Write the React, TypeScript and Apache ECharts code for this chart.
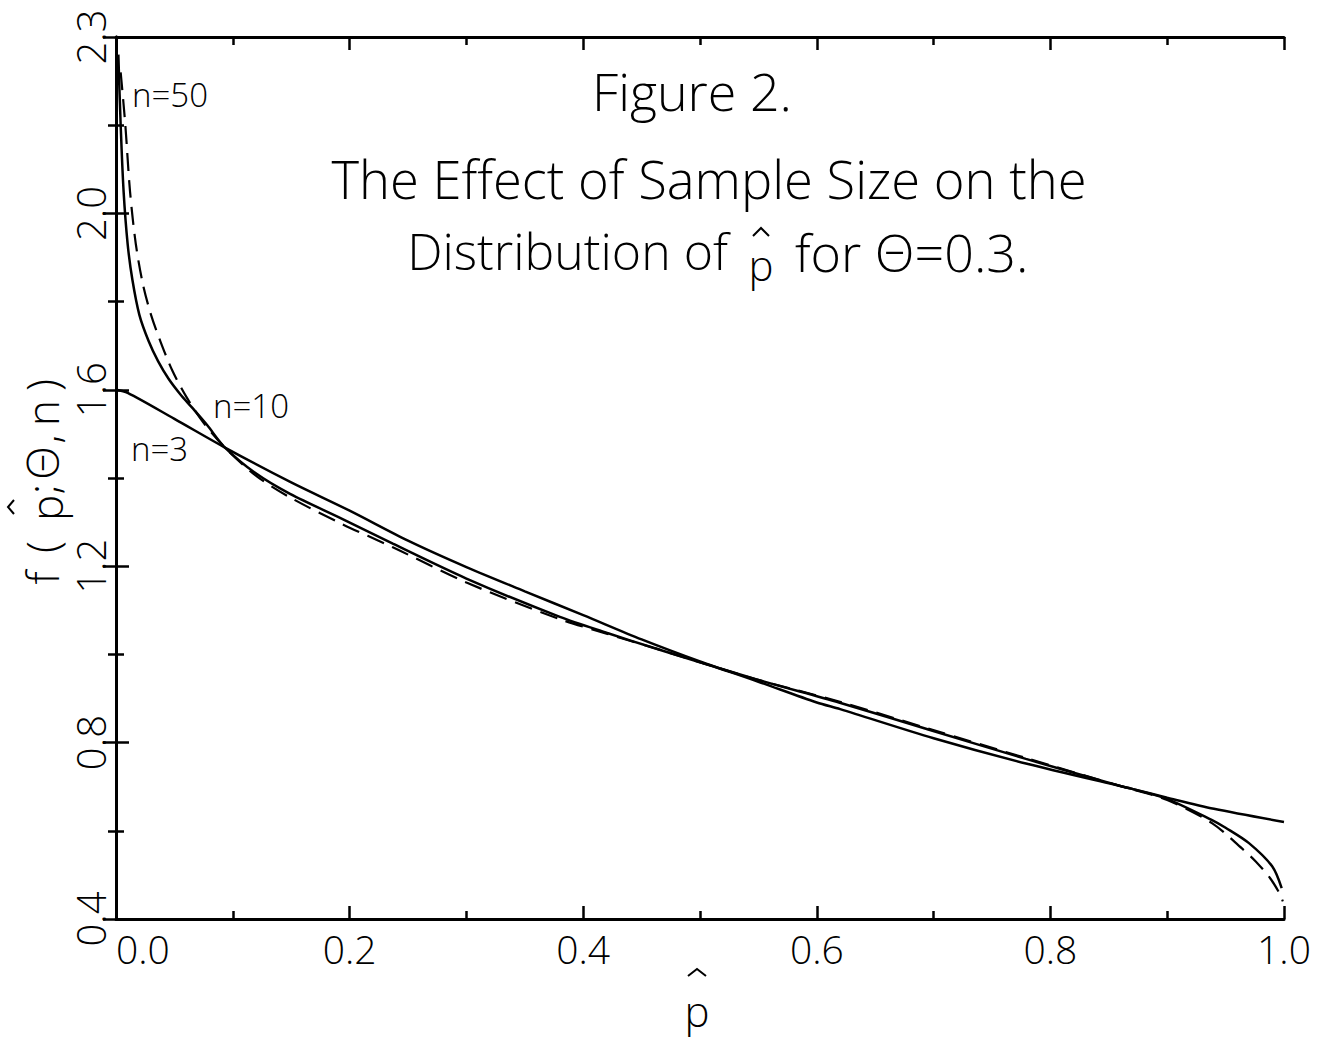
import React, { useEffect, useRef } from "react";
import * as echarts from "echarts";

// p-hat values and densities
const n3P = [0, 0.01, 0.05, 0.0933, 0.15, 0.2, 0.25, 0.3, 0.35, 0.4, 0.45, 0.5, 0.55, 0.6, 0.62, 0.7, 0.78, 0.87, 0.9, 0.94, 1.0];
const n3F = [1.6, 1.593, 1.534, 1.469, 1.39, 1.326, 1.258, 1.198, 1.143, 1.089, 1.034, 0.984, 0.938, 0.891, 0.876, 0.81, 0.752, 0.695, 0.675, 0.65, 0.62];

const n10P = [0.002, 0.004, 0.0065, 0.01, 0.014, 0.02, 0.028, 0.036, 0.045, 0.055, 0.065, 0.078, 0.0933, 0.12, 0.149, 0.194, 0.237, 0.3, 0.38, 0.42, 0.46, 0.5475, 0.619, 0.699, 0.779, 0.858, 0.87, 0.9, 0.938, 0.95, 0.97, 0.99, 0.998];
const n10F = [2.36, 2.2, 2.05, 1.93, 1.85, 1.77, 1.71, 1.665, 1.625, 1.59, 1.56, 1.52, 1.469, 1.41, 1.364, 1.307, 1.251, 1.172, 1.085, 1.049, 1.015, 0.944, 0.891, 0.827, 0.763, 0.703, 0.695, 0.672, 0.625, 0.607, 0.572, 0.519, 0.47];

const n50P = [0.004, 0.008, 0.012, 0.017, 0.023, 0.03, 0.038, 0.048, 0.06, 0.075, 0.0933, 0.12, 0.149, 0.194, 0.237, 0.3, 0.38, 0.42, 0.46, 0.5475, 0.619, 0.699, 0.779, 0.858, 0.87, 0.9, 0.938, 0.964, 0.976, 0.988, 0.996, 0.999];
const n50F = [2.32, 2.2, 2.05, 1.93, 1.84, 1.77, 1.71, 1.645, 1.585, 1.525, 1.469, 1.405, 1.356, 1.295, 1.243, 1.163, 1.08, 1.047, 1.015, 0.944, 0.893, 0.829, 0.765, 0.703, 0.694, 0.67, 0.618, 0.56, 0.53, 0.493, 0.459, 0.44];

const xLabelValues = [0, 0.2, 0.4, 0.6, 0.8, 1.0];
const xTickLabels = ["0.0", "0.2", "0.4", "0.6", "0.8", "1.0"];
const yLabelValues = [0.4, 0.8, 1.2, 1.6, 2.0, 2.4];
const yTickLabels = ["0.4", "0.8", "1.2", "1.6", "2.0", "2.3"];

const curveNames = ["n=3", "n=10", "n=50"];

const FONT = "'Open Sans', 'DejaVu Sans', sans-serif";
const WEIGHT = 300;

function lookup(vals: number[], labels: string[], v: number) {
  for (let i = 0; i < vals.length; i++) {
    if (Math.abs(vals[i] - v) < 1e-6) return labels[i];
  }
  return "";
}

export default function App() {
  const ref = useRef<HTMLDivElement>(null);
  useEffect(() => {
    if (!ref.current) return;
    const chart = echarts.init(ref.current, null, { renderer: "svg" });
    const black = "#000";
    const axisCommon = {
      axisLine: { show: true, lineStyle: { color: black, width: 3 } },
      axisTick: { show: true, inside: true, length: 13, lineStyle: { color: black, width: 2.5 } },
      minorTick: { show: true, splitNumber: 2, length: 8, lineStyle: { color: black, width: 2.5 } },
      splitLine: { show: false },
      minorSplitLine: { show: false },
    };
    const txt = (text: string, x: number, y: number, fontSize: number, align: string, rot = 0) => ({
      type: "text",
      x,
      y,
      rotation: rot,
      style: {
        text,
        fontSize,
        fontFamily: FONT,
        fontWeight: WEIGHT,
        fill: black,
        textAlign: align,
        textVerticalAlign: "middle",
      },
    });
    const hat = (pts: number[][]) => ({
      type: "polyline",
      shape: { points: pts },
      style: { stroke: black, lineWidth: 2, fill: "none" },
    });
    const R = Math.PI / 2;
    const lineSeries = (i: number, P: number[], F: number[], type: any, width: number) => ({
      name: curveNames[i],
      type: "line",
      data: P.map((p, k) => [p, F[k]]),
      smooth: 0.3,
      showSymbol: false,
      lineStyle: { color: black, width, type },
      xAxisIndex: 0,
      yAxisIndex: 0,
    });
    const option: any = {
      animation: false,
      backgroundColor: "#fff",
      grid: { left: 116, right: 33, top: 37, bottom: 125, containLabel: false, outerBoundsMode: "none" },
      xAxis: [
        {
          type: "value",
          min: 0,
          max: 1,
          interval: 0.2,
          position: "bottom",
          ...axisCommon,
          axisLabel: {
            show: true,
            fontSize: 39,
            fontFamily: FONT,
            fontWeight: WEIGHT,
            color: black,
            margin: 10,
            alignMinLabel: "left",
            formatter: (v: number) => lookup(xLabelValues, xTickLabels, v),
          },
        },
        {
          type: "value",
          min: 0,
          max: 1,
          interval: 0.2,
          position: "top",
          ...axisCommon,
          axisLabel: { show: false },
        },
      ],
      yAxis: [
        {
          type: "value",
          min: 0.4,
          max: 2.4,
          interval: 0.4,
          position: "left",
          ...axisCommon,
          axisLabel: {
            show: true,
            rotate: 90,
            fontSize: 40,
            fontFamily: FONT,
            fontWeight: WEIGHT,
            color: black,
            margin: 6,
            formatter: (v: number) => lookup(yLabelValues, yTickLabels, v),
          },
        },
        {
          type: "value",
          min: 0.4,
          max: 2.4,
          interval: 0.4,
          position: "right",
          ...axisCommon,
          axisLabel: { show: false },
        },
      ],
      series: [
        lineSeries(0, n3P, n3F, "solid", 2.5),
        lineSeries(1, n10P, n10F, "solid", 2.5),
        lineSeries(2, n50P, n50F, [18, 9], 2.2),
      ],
      graphic: [
        txt("Figure 2.", 692, 90, 52, "center"),
        txt("The Effect of Sample Size on the", 709, 178, 52.5, "center"),
        txt("Distribution of", 728, 251, 50, "right"),
        txt("p", 761, 264, 42, "center"),
        hat([[753, 236], [761, 228], [769, 236]]),
        txt("for Θ=0.3.", 795, 251, 52, "left"),
        txt(curveNames[2], 132, 94, 33, "left"),
        txt(curveNames[1], 213, 405, 33, "left"),
        txt(curveNames[0], 131, 448, 33, "left"),
        // x-axis name
        txt("p", 697, 1010, 42, "center"),
        hat([[688, 976], [697, 969], [706, 976]]),
        // y-axis name (rotated)
        txt("f", 42, 578, 44, "center", R),
        txt("(", 42, 547, 44, "center", R),
        txt("p", 46, 508, 44, "center", R),
        hat([[14, 500], [8, 507], [14, 514]]),
        txt(";", 42, 489, 44, "center", R),
        txt("Θ", 42, 463, 44, "center", R),
        txt(",", 42, 439, 44, "center", R),
        txt("n", 42, 413, 44, "center", R),
        txt(")", 42, 385, 44, "center", R),
      ],
    };
    chart.setOption(option);
    return () => chart.dispose();
  }, []);
  return (
    <div
      ref={ref}
      style={{ position: "absolute", left: 0, top: 0, width: 1317, height: 1044, background: "#fff" }}
    />
  );
}
